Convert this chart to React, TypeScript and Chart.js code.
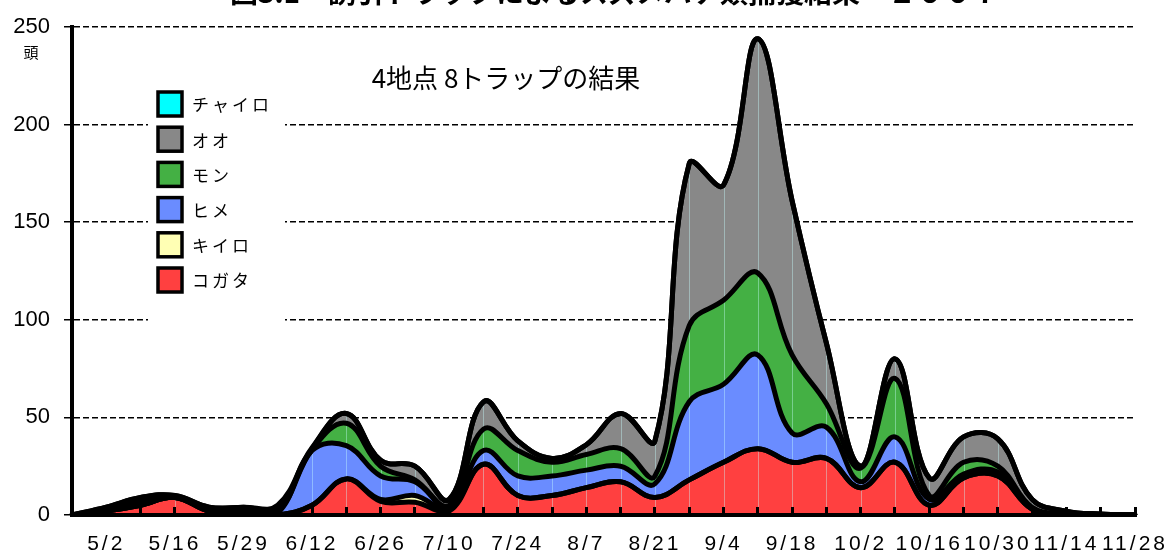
import React, { useEffect, useRef } from "react";
import { Chart, registerables } from "chart.js";

Chart.register(...registerables);

// Date labels shown on the x axis (every second weekly sample)
const dateLabels = ["5/2", "5/16", "5/29", "6/12", "6/26", "7/10", "7/24", "8/7", "8/21", "9/4", "9/18", "10/2", "10/16", "10/30", "11/14", "11/28"];
// weekly samples: 32 points, labelled on odd positions
const categories: string[] = [];
for (let i = 0; i < 32; i++) categories.push(i % 2 === 1 ? dateLabels[(i - 1) / 2] : "");

// Catches per species (頭), stacked bottom → top
const kogata = [0, 2, 5, 9, 2, 0.5, 0, 5, 18.5, 7, 6.5, 2, 26, 10, 10, 14, 17, 9, 18, 27, 34, 27, 29, 14, 27, 5, 19, 20, 3, 0, 0, 0];
const kiiro = [0, 0, 0, 0, 0, 0, 0, 0, 0, 1, 3.5, 1, 0, 0, 0, 0, 0, 0, 0, 0, 0, 0, 0, 0, 0, 0, 0, 0, 0, 0, 0, 0];
const hime = [0, 0, 0, 0, 0, 0, 1, 28, 17, 12, 7, 1, 7, 10, 10, 9, 8, 7, 40, 40, 48, 15, 16, 3, 13, 3, 2, 2, 0, 0, 0, 0];
const mon = [0, 1, 2, 0.5, 1, 1.5, 1, 0.5, 11.5, 5, 1, 1, 11, 13, 7, 8, 9, 4, 39, 43, 42, 40, 12, 7, 30, 2, 6, 3, 1, 0.5, 0, 0];
const oo = [0, 1, 2, 0.5, 1, 2, 2, 0.5, 5, 3, 7, 3, 14, 5, 2, 5, 18, 18, 83, 59, 120, 79, 31, 1, 10, 9, 13, 14, 4, 1.5, 0.5, 0];
const chairo = [0, 0, 0, 0, 0, 0, 1, 0.5, 0, 0, 0, 0, 0, 0, 0, 0, 0, 0, 0, 0, 0, 0, 0, 0, 0, 0, 0, 0, 0, 0, 0, 0];

const yTicks = [0, 50, 100, 150, 200, 250];

const titleText = "図3.1　誘引トラップによるスズメバチ類捕獲結果　２００７";
const subtitleText = "4地点 8トラップの結果";
const unitText = "頭";

const seriesNames = ["コガタ", "キイロ", "ヒメ", "モン", "オオ", "チャイロ"];
const seriesColors = ["#ff4040", "#ffffb4", "#6a8cff", "#44b044", "#888888", "#00ffff"];
const seriesData = [kogata, kiiro, hime, mon, oo, chairo];

const overlayPlugin = {
  id: "overlay",
  afterLayout(chart: any) {
    const sx: any = chart.scales.x;
    if (sx && !sx.__ls) {
      const orig = sx.drawLabels;
      sx.drawLabels = function (area: any) {
        const c = this.ctx;
        c.save();
        (c as any).letterSpacing = "3px";
        orig.call(this, area);
        c.restore();
      };
      sx.__ls = true;
    }
  },
  beforeDatasetsDraw(chart: any) {
    const ctx = chart.ctx;
    ctx.save();
    // faint seams inside the filled areas at each sample
    const topMeta = chart.getDatasetMeta(chart.data.datasets.length - 1);
    const y0 = chart.scales.y.getPixelForValue(0);
    ctx.strokeStyle = "rgba(200,255,255,0.4)";
    ctx.lineWidth = 1;
    topMeta.data.forEach((pt: any) => {
      if (y0 - pt.y > 3) {
        const x = Math.round(pt.x) + 0.5;
        ctx.beginPath();
        ctx.moveTo(x, y0);
        ctx.lineTo(x, pt.y);
        ctx.stroke();
      }
    });
    ctx.fillStyle = "#ffffff";
    ctx.fillRect(148, 88, 137, 242);
    ctx.restore();
  },
  afterDraw(chart: any) {
    const ctx = chart.ctx;
    ctx.save();
    ctx.fillStyle = "#000";
    // title (top is clipped by the page edge)
    ctx.font = 'bold 28px "Noto Sans CJK JP"';
    ctx.textAlign = "center";
    ctx.textBaseline = "alphabetic";
    ctx.fillText(titleText, 615, 3);
    // subtitle
    ctx.font = '26px "Noto Sans CJK JP"';
    ctx.textBaseline = "middle";
    ctx.fillText(subtitleText, 506, 78);
    // unit
    ctx.font = '15px "Noto Sans CJK JP"';
    ctx.fillText(unitText, 31, 52);
    // legend
    const ds = chart.data.datasets;
    ctx.textAlign = "left";
    ctx.font = '17px "Noto Sans CJK JP"';
    (ctx as any).letterSpacing = "3px";
    for (let k = 0; k < ds.length; k++) {
      const d = ds[ds.length - 1 - k];
      const cy = 104 + k * 35.2;
      ctx.fillStyle = d.backgroundColor;
      ctx.fillRect(158, cy - 12, 24, 24);
      ctx.lineWidth = 3.5;
      ctx.strokeStyle = "#000";
      ctx.strokeRect(158, cy - 12, 24, 24);
      ctx.fillStyle = "#000";
      ctx.fillText(d.label, 192, cy + 1);
    }
    ctx.restore();
  },
};

export default function App() {
  const ref = useRef<HTMLCanvasElement>(null);
  useEffect(() => {
    if (!ref.current) return;
    const datasets = seriesData.map((data, i) => ({
      label: seriesNames[i],
      data,
      backgroundColor: seriesColors[i],
      borderColor: "#000",
      borderWidth: 5,
      fill: i === 0 ? "origin" : "-1",
      pointRadius: 0,
      tension: 0.4,
      borderJoinStyle: "round" as const,
      borderCapStyle: "round" as const,
    }));
    const chart = new Chart(ref.current, {
      type: "line",
      data: { labels: categories, datasets },
      options: {
        animation: false,
        responsive: true,
        maintainAspectRatio: false,
        layout: { padding: { top: 27, right: 30, left: 0, bottom: 0 } },
        plugins: {
          legend: { display: false },
          tooltip: { enabled: false },
          title: { display: false },
          filler: { drawTime: "beforeDatasetsDraw" },
        },
        scales: {
          x: {
            type: "category",
            offset: false,
            grid: {
              display: true,
              drawOnChartArea: false,
              drawTicks: true,
              tickLength: -8,
              tickWidth: 3,
              tickColor: "#000",
              z: 1,
            },
            border: { display: true, color: "#000", width: 4, z: 1 },
            ticks: {
              autoSkip: false,
              maxRotation: 0,
              minRotation: 0,
              padding: 25,
              color: "#000",
              font: { family: "Liberation Sans", size: 21 },
            },
            afterFit: (s: any) => {
              s.height = 38;
              s.paddingLeft = 0;
              s.paddingRight = 0;
            },
          },
          y: {
            stacked: true,
            min: 0,
            max: 250,
            afterBuildTicks: (s: any) => {
              s.ticks = yTicks.map((v) => ({ value: v }));
            },
            ticks: {
              padding: 14,
              color: "#000",
              font: { family: "Liberation Sans", size: 22 },
            },
            grid: {
              color: "#000",
              lineWidth: 1.5,
              drawTicks: true,
              tickLength: 8,
              tickColor: "#000",
              tickWidth: 1.5,
            },
            border: { display: true, color: "#000", width: 4, dash: [6, 3] },
            afterFit: (s: any) => {
              s.width = 72;
              s.paddingTop = 0;
              s.paddingBottom = 0;
            },
          },
        },
      } as any,
      plugins: [overlayPlugin],
    });
    return () => chart.destroy();
  }, []);
  return (
    <div style={{ position: "fixed", left: 0, top: 0, width: 1165, height: 553, background: "#fff" }}>
      <canvas ref={ref} />
    </div>
  );
}
